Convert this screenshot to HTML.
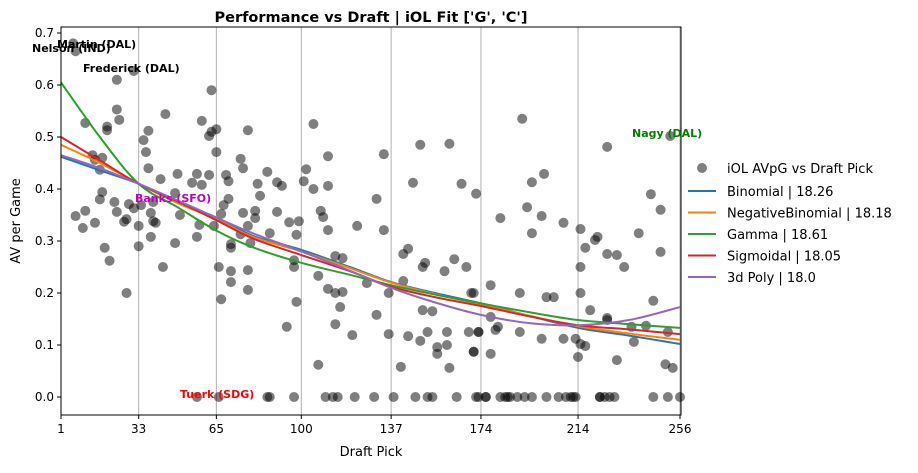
<!DOCTYPE html>
<html><head><meta charset="utf-8"><style>
body{margin:0;background:#fff;font-family:"Liberation Sans","DejaVu Sans",sans-serif;}
svg text{font-family:"DejaVu Sans","Liberation Sans",sans-serif;}
</style></head><body>
<svg id="chart" width="918" height="468" xmlns="http://www.w3.org/2000/svg">
<rect width="918" height="468" fill="#fff"/>
<text x="371" y="22" text-anchor="middle" font-size="14.5" font-weight="bold">Performance vs Draft | iOL Fit ['G', 'C']</text>
<g id="grid"></g><g id="points"></g><g id="curves"></g>
<rect x="61" y="27" width="620" height="388" fill="none" stroke="#000" stroke-width="1"/>
<g id="axes"></g>
<text x="371" y="456" text-anchor="middle" font-size="13">Draft Pick</text>
<text transform="translate(20,221) rotate(-90)" text-anchor="middle" font-size="13">AV per Game</text>
<g font-size="11" font-weight="bold">
<text x="57" y="48">Martin (DAL)</text>
<text x="32" y="52">Nelson (IND)</text>
<text x="83" y="72">Frederick (DAL)</text>
<text x="135" y="202" fill="#c000c0">Banks (SFO)</text>
<text x="180" y="398" fill="#ff0000">Tuerk (SDG)</text>
<text x="632" y="137" fill="#008000">Nagy (DAL)</text>
</g>
<g id="legend" font-size="13"></g>
</svg>
<script>
const xTicks=[1,33,65,100,137,174,214,256];
const yTicks=[0,0.1,0.2,0.3,0.4,0.5,0.6,0.7];
const picks=[6,7,24,31,63,24,25,44,11,20,20,37,59,65,62,63,78,35,36,65,14,15,18,17,37,75,76,86,42,49,55,57,59,62,69,70,82,18,17,48,70,83,23,29,31,34,39,68,7,11,10,15,24,27,28,38,39,40,50,58,67,76,81,81,78,64,33,19,21,33,38,48,57,71,71,75,79,87,43,66,71,78,71,78,67,28,66,86,
90,92,90,95,99,98,97,97,98,94,107,105,111,102,101,105,111,108,109,111,107,114,117,111,114,117,116,114,121,123,134,131,134,127,131,136,136,141,142,142,144,146,149,161,166,172,151,150,163,168,159,170,150,154,144,149,152,160,169,173,156,156,160,171,161,
87,97,110,113,115,122,130,138,147,152,154,164,172,
191,226,195,200,193,182,199,195,208,215,217,221,222,226,230,233,215,239,244,248,248,252,178,190,201,204,215,219,226,245,171,173,178,180,181,190,199,208,213,215,217,214,226,230,236,237,242,251,250,253,178,171,
173,176,176,182,184,185,186,189,192,195,201,206,209,211,212,213,223,223,225,227,229,245,251,256,57];
const avpg=[.68,.665,.61,.627,.59,.553,.533,.544,.527,.52,.513,.512,.531,.515,.502,.51,.513,.494,.471,.471,.465,.456,.46,.437,.44,.458,.44,.433,.419,.429,.412,.429,.408,.427,.427,.415,.41,.394,.38,.392,.381,.387,.375,.371,.363,.369,.375,.369,.348,.358,.325,.335,.356,.337,.342,.354,.338,.335,.35,.331,.352,.354,.358,.344,.329,.329,.329,.287,.262,.29,.308,.296,.308,.294,.287,.313,.296,.315,.25,.25,.242,.244,.221,.206,.188,.2,0,0,
.413,.406,.356,.336,.338,.312,.263,.25,.183,.135,.062,.525,.463,.438,.415,.4,.406,.358,.346,.321,.233,.271,.267,.208,.2,.202,.173,.14,.119,.329,.467,.381,.321,.219,.158,.2,.121,.058,.223,.275,.285,.412,.485,.487,.41,.391,.258,.25,.265,.25,.242,.2,.167,.165,.117,.108,.125,.125,.125,.125,.096,.083,.1,.087,.056,
0,0,0,0,0,0,0,0,0,0,0,0,0,
.535,.481,.413,.429,.365,.344,.348,.315,.335,.323,.287,.302,.308,.275,.273,.25,.25,.315,.39,.36,.279,.502,.215,.2,.192,.192,.2,.167,.152,.185,.2,.125,.154,.129,.135,.125,.112,.112,.112,.102,.098,.077,.148,.071,.135,.106,.137,.125,.063,.056,.083,.087,
0,0,0,0,0,0,0,0,0,0,0,0,0,0,0,0,0,0,0,0,0,0,0,0,0];
const curvePicks=[1,17,33,49,65,80,100,120,137,155,174,194,214,235,256];
const binomial=[.462,.436,.41,.375,.345,.31,.283,.25,.221,.2,.18,.156,.133,.118,.102];
const negBinomial=[.485,.45,.41,.373,.342,.308,.28,.248,.22,.198,.178,.156,.136,.122,.11];
const gamma=[.605,.5,.41,.365,.32,.288,.258,.235,.215,.197,.18,.163,.148,.14,.133];
const sigmoidal=[.5,.455,.41,.376,.34,.305,.273,.242,.212,.192,.175,.155,.138,.13,.121];
const poly3=[.465,.44,.41,.378,.345,.315,.28,.243,.21,.182,.158,.142,.138,.148,.173];
const seriesNames=['Binomial | 18.26','NegativeBinomial | 18.18','Gamma | 18.61','Sigmoidal | 18.05','3d Poly | 18.0'];
const seriesVals=[binomial,negBinomial,gamma,sigmoidal,poly3];
const colors=['#1f77b4','#ff7f0e','#2ca02c','#d62728','#9467bd'];
const NS='http://www.w3.org/2000/svg';
const X0=61,X1=680,Y0=397,Y7=33;
const xs=p=>X0+(p-1)*(X1-X0)/255;
const ys=v=>Y0-v*(Y0-Y7)/0.7;
function mk(tag,attrs,parent){const e=document.createElementNS(NS,tag);for(const k in attrs)e.setAttribute(k,attrs[k]);parent.appendChild(e);return e;}
const grid=document.getElementById('grid'),axes=document.getElementById('axes');
xTicks.forEach(t=>{
 const g=mk('line',{x1:xs(t),x2:xs(t),y1:27,y2:415,stroke:'#b0b0b0','stroke-width':1},grid);
 
 
 mk('line',{x1:xs(t),x2:xs(t),y1:415,y2:419,stroke:'#000'},axes);
 const tx=mk('text',{x:xs(t),y:433,'text-anchor':'middle','font-size':12},axes);
 tx.textContent=t;
 
 
});
yTicks.forEach(t=>{
 mk('line',{x1:57,x2:61,y1:ys(t),y2:ys(t),stroke:'#000'},axes);
 const tx=mk('text',{x:54,y:ys(t)+4,'text-anchor':'end','font-size':12},axes);
 tx.textContent=t.toFixed(1);
 
 
});
const pts=document.getElementById('points');
picks.forEach((p,i)=>{
 const c=mk('circle',{cx:xs(p),cy:ys(avpg[i]),r:5,fill:'#000','fill-opacity':0.5},pts);
 
 
});
const cg=document.getElementById('curves');
function pathFor(vals){
 const P=curvePicks.map((p,i)=>[xs(p),ys(vals[i])]);
 let d='M'+P[0][0]+','+P[0][1];
 for(let i=0;i<P.length-1;i++){
  const p0=P[i-1]||P[i],p1=P[i],p2=P[i+1],p3=P[i+2]||P[i+1];
  d+=' C'+(p1[0]+(p2[0]-p0[0])/6)+','+(p1[1]+(p2[1]-p0[1])/6)+' '+(p2[0]-(p3[0]-p1[0])/6)+','+(p2[1]-(p3[1]-p1[1])/6)+' '+p2[0]+','+p2[1];
 }
 return d;
}
seriesVals.forEach((v,i)=>{
 const pth=mk('path',{d:pathFor(v),fill:'none',stroke:colors[i],'stroke-width':2},cg);
 
 
});
const lg=document.getElementById('legend');
const sc=mk('circle',{cx:702,cy:168,r:5,fill:'#000','fill-opacity':0.5},lg);


const st=mk('text',{x:727,y:173},lg);st.textContent='iOL AVpG vs Draft Pick';


seriesNames.forEach((n,i)=>{
 const y=191+i*21.5;
 mk('line',{x1:688,x2:716,y1:y,y2:y,stroke:colors[i],'stroke-width':2},lg);
 const t=mk('text',{x:727,y:y+5},lg);t.textContent=n;
 
 
});
</script>
</body></html>
